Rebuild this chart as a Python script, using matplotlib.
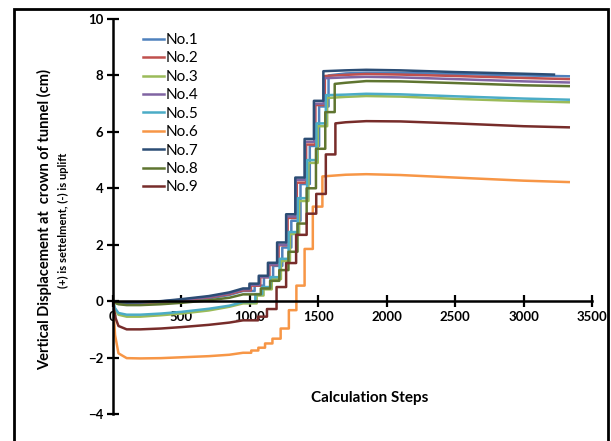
import matplotlib
matplotlib.use("Agg")
import matplotlib.pyplot as plt
from matplotlib.patches import Rectangle

plt.rcParams['font.family'] = ['Lato', 'DejaVu Sans']

# 图例名称与颜色
labels = ["No.1", "No.2", "No.3", "No.4", "No.5", "No.6", "No.7", "No.8", "No.9"]
colors = ["#4F81BD", "#C0504D", "#9BBB59", "#8064A2", "#4BACC6",
          "#F79646", "#2C4D75", "#5F7530", "#772C2A"]

# 初始段（计算步）
lead_x = [0, 15, 40, 100, 200, 350, 500, 700, 850, 950]
lead_no1 = [0, -0.05, -0.09, -0.11, -0.10, -0.05, 0.00, 0.10, 0.22, 0.36]
lead_no2 = [0, -0.04, -0.07, -0.09, -0.08, -0.03, 0.03, 0.13, 0.25, 0.38]
lead_no3 = [0, -0.30, -0.48, -0.55, -0.55, -0.50, -0.44, -0.33, -0.20, -0.08]
lead_no4 = [0, -0.03, -0.06, -0.07, -0.06, -0.01, 0.05, 0.15, 0.28, 0.42]
lead_no5 = [0, -0.25, -0.42, -0.48, -0.48, -0.44, -0.38, -0.27, -0.16, -0.03]
lead_no6 = [0, -1.20, -1.85, -2.02, -2.03, -2.02, -1.99, -1.95, -1.90, -1.83]
lead_no7 = [0, -0.02, -0.04, -0.05, -0.04, 0.00, 0.07, 0.18, 0.31, 0.45]
lead_no8 = [0, -0.06, -0.11, -0.14, -0.14, -0.11, -0.06, 0.03, 0.12, 0.24]
lead_no9 = [0, -0.55, -0.88, -1.00, -1.00, -0.97, -0.92, -0.84, -0.76, -0.68]

# 阶梯段：跳变位置与跳变后的位移
step_x_no1 = [1035, 1103, 1170, 1237, 1303, 1370, 1438, 1506, 1575]
step_y_no1 = [0.55, 0.85, 1.25, 1.90, 2.85, 4.15, 5.50, 6.90, 8.00]
step_x_no2 = [1008, 1076, 1143, 1210, 1276, 1343, 1411, 1479, 1548]
step_y_no2 = [0.55, 0.85, 1.28, 1.98, 2.95, 4.20, 5.55, 6.95, 7.98]
step_x_no3 = [1050, 1100, 1160, 1227, 1293, 1360, 1428, 1496, 1565]
step_y_no3 = [0.20, 0.42, 0.78, 1.42, 2.38, 3.55, 4.90, 6.20, 7.20]
step_x_no4 = [1000, 1068, 1135, 1202, 1268, 1335, 1403, 1471, 1540]
step_y_no4 = [0.58, 0.86, 1.30, 2.00, 3.00, 4.30, 5.65, 7.00, 7.90]
step_x_no5 = [1040, 1090, 1150, 1217, 1283, 1350, 1418, 1486, 1555]
step_y_no5 = [0.25, 0.50, 0.85, 1.50, 2.45, 3.65, 5.00, 6.30, 7.30]
step_x_no6 = [1010, 1062, 1111, 1165, 1225, 1285, 1340, 1400, 1460, 1530]
step_y_no6 = [-1.75, -1.65, -1.50, -1.33, -0.97, -0.32, 0.55, 1.85, 3.35, 4.42]
step_x_no7 = [997, 1065, 1132, 1199, 1265, 1332, 1400, 1468, 1537]
step_y_no7 = [0.62, 0.90, 1.36, 2.08, 3.08, 4.38, 5.75, 7.10, 8.15]
step_x_no8 = [1080, 1148, 1215, 1282, 1348, 1415, 1483, 1551, 1620]
step_y_no8 = [0.45, 0.72, 1.10, 1.75, 2.75, 4.00, 5.40, 6.70, 7.70]
step_x_no9 = [1060, 1125, 1195, 1265, 1338, 1415, 1485, 1555, 1625]
step_y_no9 = [-0.55, -0.28, 0.50, 1.35, 2.35, 3.10, 3.80, 5.20, 6.30]

# 稳定段
tail_x = [1700, 1850, 2100, 2500, 3000, 3330]
tail_x_no7 = [1700, 1850, 2100, 2500, 3000, 3222]
tail_no1 = [8.07, 8.10, 8.09, 8.05, 8.00, 7.97]
tail_no2 = [8.02, 8.05, 8.03, 7.98, 7.91, 7.87]
tail_no3 = [7.24, 7.27, 7.25, 7.17, 7.09, 7.05]
tail_no4 = [7.93, 7.95, 7.93, 7.87, 7.79, 7.75]
tail_no5 = [7.32, 7.35, 7.33, 7.26, 7.18, 7.14]
tail_no6 = [4.48, 4.50, 4.47, 4.38, 4.27, 4.22]
tail_no7 = [8.18, 8.20, 8.18, 8.12, 8.06, 8.03]
tail_no8 = [7.74, 7.80, 7.79, 7.73, 7.65, 7.62]
tail_no9 = [6.34, 6.38, 6.37, 6.30, 6.20, 6.16]


def build_curve(lead_y, step_x, step_y, t_x, t_y):
    """拼接初始段、阶梯段和稳定段"""
    xs = list(lead_x)
    ys = list(lead_y)
    prev = ys[-1]
    for sx, sy in zip(step_x, step_y):
        xs += [sx, sx]
        ys += [prev, sy]
        prev = sy
    xs += t_x
    ys += t_y
    return xs, ys


series = [
    (lead_no1, step_x_no1, step_y_no1, tail_x, tail_no1),
    (lead_no2, step_x_no2, step_y_no2, tail_x, tail_no2),
    (lead_no3, step_x_no3, step_y_no3, tail_x, tail_no3),
    (lead_no4, step_x_no4, step_y_no4, tail_x, tail_no4),
    (lead_no5, step_x_no5, step_y_no5, tail_x, tail_no5),
    (lead_no6, step_x_no6, step_y_no6, tail_x, tail_no6),
    (lead_no7, step_x_no7, step_y_no7, tail_x_no7, tail_no7),
    (lead_no8, step_x_no8, step_y_no8, tail_x, tail_no8),
    (lead_no9, step_x_no9, step_y_no9, tail_x, tail_no9),
]

fig = plt.figure(figsize=(6.11, 4.41), dpi=100)
ax = fig.add_axes([113 / 611, 1 - 414 / 441, 479 / 611, 395 / 441])

for (ly, sx, sy, tx, ty), lab, col in zip(series, labels, colors):
    x, y = build_curve(ly, sx, sy, tx, ty)
    ax.plot(x, y, color=col, lw=1.8, label=lab, solid_joinstyle='round')

ax.set_xlim(0, 3500)
ax.set_ylim(-4, 10)
ax.set_xticks(range(0, 3501, 500))
ax.set_yticks(range(-4, 11, 2))

# 坐标轴样式（类似Excel）
ax.spines['top'].set_visible(False)
ax.spines['right'].set_visible(False)
ax.spines['bottom'].set_position(('data', 0))
ax.spines['left'].set_position(('data', 0))
for s in ['bottom', 'left']:
    ax.spines[s].set_linewidth(1.8)
    ax.spines[s].set_color('black')
ax.tick_params(direction='inout', length=8, width=1.6, colors='black')
ax.tick_params(axis='x', pad=3)
ax.tick_params(axis='y', pad=3)
for t in ax.get_xticklabels() + ax.get_yticklabels():
    t.set_fontweight('bold')
    t.set_fontsize(9.5)

# 轴标题
fig.text(45 / 611, 1 - 220 / 441, "Vertical Displacement at  crown of tunnel (cm)",
         rotation=90, ha='center', va='center', fontsize=10.5, fontweight='bold')
fig.text(63 / 611, 1 - 220 / 441, "(+) is settelment, (-) is uplift",
         rotation=90, ha='center', va='center', fontsize=8, fontweight='bold')
fig.text(370 / 611, 1 - 398 / 441, "Calculation Steps",
         ha='center', va='center', fontsize=11, fontweight='bold')

# 图例
leg = ax.legend(loc='upper left', bbox_to_anchor=(0.05, 0.98), frameon=False,
                handlelength=1.4, handletextpad=0.1, labelspacing=0.29,
                fontsize=11, borderaxespad=0)

# 外框
fig.patches.append(Rectangle((14 / 611, -0.1), 594 / 611, 1.1 - 9 / 441,
                             transform=fig.transFigure, fill=False,
                             edgecolor='black', linewidth=2))

plt.savefig('out.png', dpi=100)
